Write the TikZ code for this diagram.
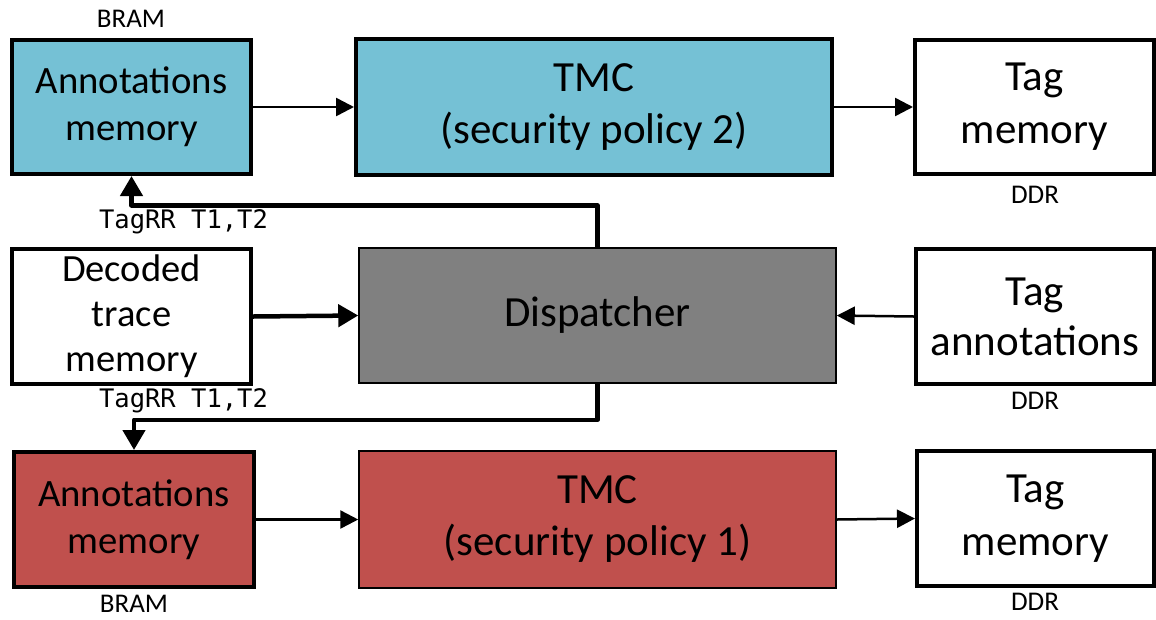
\documentclass[tikz,border=0pt]{standalone}
\usepackage{fontspec}
\setmainfont{Carlito}
\newfontfamily\codefont{DejaVu Sans Mono}
\usetikzlibrary{arrows.meta}
\definecolor{aquafill}{HTML}{75C1D5}
\definecolor{redfill}{HTML}{C0504D}
\definecolor{grayfill}{HTML}{808080}
\newcommand\bxfont{\fontsize{43}{53}\selectfont}
\newcommand\memfont{\fontsize{38.7}{47}\selectfont}
\newcommand\lblfont{\fontsize{27}{32}\selectfont}
\newcommand\cdfont{\codefont\fontsize{25.5}{30}\selectfont}
\begin{document}
\begin{tikzpicture}[x=1pt,y=-1pt,
  blockbox/.style={draw, line width=4pt, minimum width=239pt, minimum height=134pt,
    inner sep=0pt, align=center, font=\bxfont},
  widebox/.style={blockbox, minimum width=477pt, minimum height=136pt},
  thinedge/.style={line width=1.5pt},
  memlabel/.style={inner sep=0pt, font=\lblfont},
  codelabel/.style={inner sep=0pt, font=\cdfont},
  thinarrow/.style={line width=2.5pt, -{Triangle[length=18pt,width=18pt]}},
  thickarrow/.style={line width=4.5pt, -{Triangle[length=20pt,width=22pt]}, line join=round}
]
\useasboundingbox (0,0) rectangle (1156,619);

% top row
\node[blockbox, fill=aquafill, font=\memfont] (annTop) at (131.5,107) {Annotations\\memory};
\node[widebox, fill=aquafill, minimum width=476pt, font=\fontsize{43}{52}\selectfont] (tmcTop) at (594,107) {TMC\\(security policy 2)};
\node[blockbox] (tagTop) at (1034.5,107) {Tag\\memory};

% middle row
\node[blockbox, minimum height=135pt, font=\fontsize{38.5}{45}\selectfont] (dec) at (131.5,316.5) {Decoded\\trace\\memory};
\node[widebox, thinedge, fill=grayfill, minimum height=135pt] (disp) at (597.5,315.5) {Dispatcher};
\node[blockbox, minimum width=238pt, minimum height=135pt, font=\fontsize{43}{50}\selectfont] (tagAnn) at (1035,316.5) {Tag\\annotations};

% bottom row
\node[blockbox, fill=redfill, minimum width=240pt, minimum height=135pt, font=\memfont] (annBot) at (134,519.5) {Annotations\\memory};
\node[widebox, thinedge, fill=redfill, minimum height=137pt, font=\fontsize{43}{52}\selectfont] (tmcBot) at (597.5,519.5) {TMC\\(security policy 1)};
\node[blockbox, minimum width=237pt, minimum height=135pt] (tagBot) at (1035.5,518.5) {Tag\\memory};

% labels
\node[memlabel] (bramTop) at (131,19) {BRAM};
\node[memlabel] (ddrTop) at (1035,195) {DDR};
\node[codelabel] (rrTop) at (183.5,222) {TagRR T1,T2};
\node[codelabel] (rrMid) at (183.5,401) {TagRR T1,T2};
\node[memlabel] (ddrMid) at (1035,401) {DDR};
\node[memlabel] (bramBot) at (134,604) {BRAM};
\node[memlabel] (ddrBot) at (1035,602) {DDR};

% connectors
\draw[thinarrow] (annTop.east) -- (tmcTop.west);
\draw[thinarrow] (tmcTop.east) -- (tagTop.west);
\draw[thinarrow] (annBot.east) -- (tmcBot.west);
\draw[thinarrow] (tmcBot.east) -- (tagBot.west);
\draw[thinarrow] (tagAnn.west) -- (disp.east);
\draw[thickarrow] (dec.east) -- (disp.west);
\draw[thickarrow] (disp.north) -- ++(0,-42) -| (annTop.south);
\draw[thickarrow] (disp.south) -- ++(0,36) -| (annBot.north);
\end{tikzpicture}
\end{document}
